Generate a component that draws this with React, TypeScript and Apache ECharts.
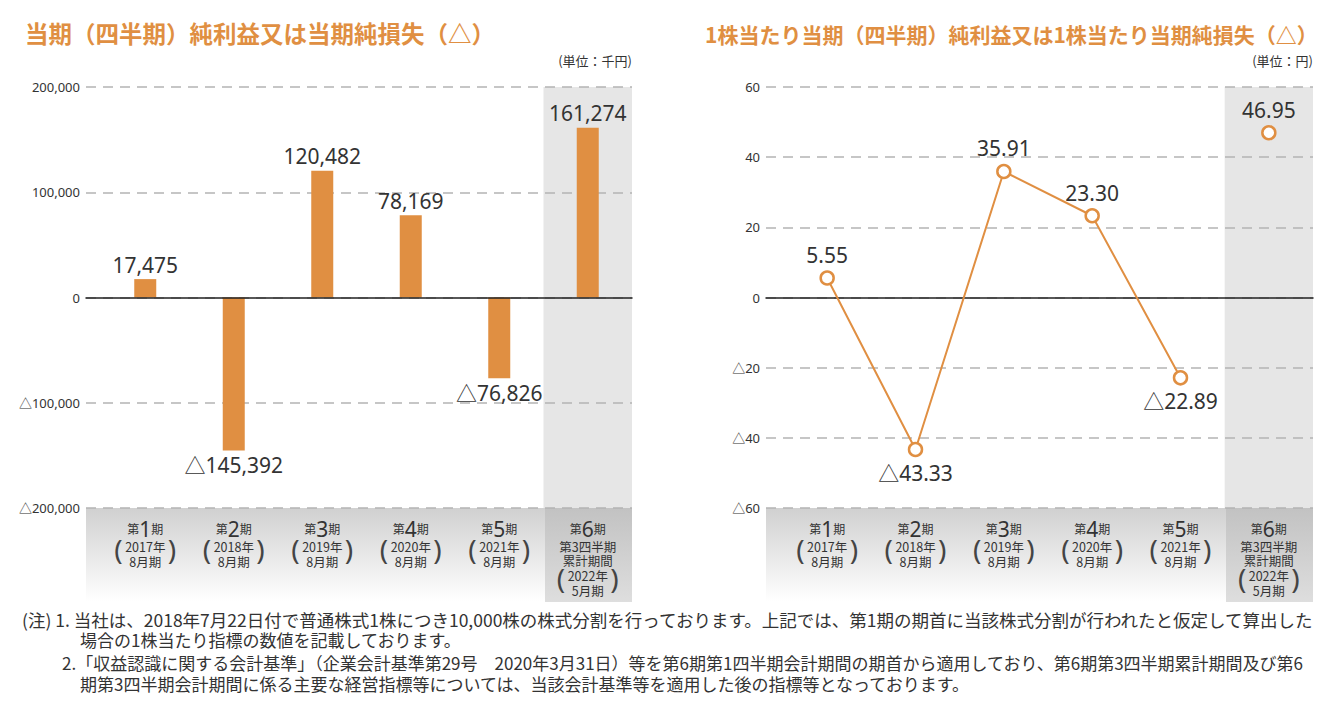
import React, { useEffect, useRef } from 'react';
import * as echarts from 'echarts';

const categories = ['第1期', '第2期', '第3期', '第4期', '第5期', '第6期'];
const periodNumbers = ['1', '2', '3', '4', '5', '6'];
const periodYears = ['2017年', '2018年', '2019年', '2020年', '2021年', '2022年'];
const periodMonths = ['8月期', '8月期', '8月期', '8月期', '8月期', '5月期'];
const cumulativeNote = ['第3四半期', '累計期間'];

const netIncome = [17475, -145392, 120482, 78169, -76826, 161274];
const eps = [5.55, -43.33, 35.91, 23.3, -22.89, 46.95];

const incomeMin = -200000;
const incomeMax = 200000;
const incomeStep = 100000;
const epsMin = -60;
const epsMax = 60;
const epsStep = 20;

const titleLeft = '当期（四半期）純利益又は当期純損失（△）';
const titleRight = '1株当たり当期（四半期）純利益又は1株当たり当期純損失（△）';
const unitLeft = '(単位：千円)';
const unitRight = '(単位：円)';

const footnotes = [
  '(注) 1. 当社は、2018年7月22日付で普通株式1株につき10,000株の株式分割を行っております。上記では、第1期の期首に当該株式分割が行われたと仮定して算出した',
  '場合の1株当たり指標の数値を記載しております。',
  '2.「収益認識に関する会計基準」（企業会計基準第29号　2020年3月31日）等を第6期第1四半期会計期間の期首から適用しており、第6期第3四半期累計期間及び第6',
  '期第3四半期会計期間に係る主要な経営指標等については、当該会計基準等を適用した後の指標等となっております。',
];

const ORANGE = '#e08f42';
const TEXT = '#333333';
const FONT = '"Noto Sans", "Noto Sans CJK JP", sans-serif';
const CJK = '"Noto Sans CJK JP", "Noto Sans", sans-serif';

const fmtIncome = (v: number) =>
  (v < 0 ? '△' : '') + Math.abs(v).toLocaleString('en-US');
const fmtEps = (v: number) => (v < 0 ? '△' : '') + Math.abs(v).toFixed(2);
const fmtEpsAxis = (v: number) => (v < 0 ? '△' : '') + String(Math.abs(v));

const catRich = {
  a: { fontSize: 12, color: TEXT, fontFamily: 'Noto Sans CJK JP', lineHeight: 21, verticalAlign: 'middle' },
  b: { fontSize: 21, color: TEXT, fontFamily: 'Noto Sans', lineHeight: 21, verticalAlign: 'middle' },
  c: { fontSize: 12.5, color: TEXT, fontFamily: 'Noto Sans CJK JP', lineHeight: 15 },
  d: { fontSize: 12.5, color: TEXT, fontFamily: 'Noto Sans CJK JP', lineHeight: 14 },
  e: { fontSize: 12.5, color: TEXT, fontFamily: 'Noto Sans CJK JP', lineHeight: 17 },
  f: { fontSize: 12.5, color: TEXT, fontFamily: 'Noto Sans CJK JP', lineHeight: 13 },
};

const catFormatter = (_v: string, i: number) => {
  const head = `{a|第}{b|${periodNumbers[i]}}{a|期}`;
  if (i === categories.length - 1) {
    return [
      head,
      `{d|${cumulativeNote[0]}}`,
      `{d|${cumulativeNote[1]}}`,
      `{e|${periodYears[i]}}`,
      `{f|${periodMonths[i]}}`,
    ].join('\n');
  }
  return [head, `{c|${periodYears[i]}}`, `{c|${periodMonths[i]}}`].join('\n');
};

const parenRich = {
  p: { fontSize: 28, color: '#444', fontFamily: 'Noto Sans', lineHeight: 28 },
  s: { width: 45, fontSize: 10, lineHeight: 28 },
};

const parenData = categories.map((c, i) =>
  i === categories.length - 1 ? { value: c, textStyle: { padding: [29, 0, 0, 0] } } : c
);

const splitColors = categories.map((_c, i) =>
  i === categories.length - 1 ? '#e6e6e6' : 'rgba(0,0,0,0)'
);

const dashed = { lineStyle: { type: [10, 7], color: '#b4b4b4', width: 1.5 } };

function buildAxes(gridBase: number, min: number, max: number, step: number, fmt: (v: number) => string) {
  const xAxis = [
    {
      gridIndex: gridBase,
      type: 'category',
      data: [''],
      z: 3,
      axisLine: { show: true, onZero: true, lineStyle: { color: '#222', width: 1.5 } },
      axisTick: { show: false },
      axisLabel: { show: false },
      splitLine: { show: false },
    },
    {
      gridIndex: gridBase + 1,
      type: 'category',
      position: 'bottom',
      data: categories,
      axisLine: { show: false },
      axisTick: { show: false },
      splitLine: { show: false },
      splitArea: { show: true, interval: 0, areaStyle: { color: splitColors } },
      axisLabel: {
        interval: 0,
        margin: 10,
        fontSize: 13,
        color: TEXT,
        formatter: catFormatter,
        rich: catRich,
      },
    },
    {
      gridIndex: gridBase + 1,
      type: 'category',
      position: 'bottom',
      offset: 0,
      data: parenData,
      axisLine: { show: false },
      axisTick: { show: false },
      splitLine: { show: false },
      axisLabel: {
        interval: 0,
        margin: 27,
        fontSize: 28,
        color: '#444',
        formatter: () => '{p|(}{s| }{p|)}',
        rich: parenRich,
      },
    },
  ];
  const yAxis = [
    {
      gridIndex: gridBase,
      type: 'value',
      min,
      max,
      interval: step,
      z: 1,
      axisLine: { show: false },
      axisTick: { show: false },
      splitLine: { show: true, ...dashed },
      axisLabel: { formatter: fmt, color: TEXT, fontSize: 13, margin: 6, fontFamily: FONT },
    },
    { gridIndex: gridBase + 1, type: 'value', min, max, interval: step, show: false },
  ];
  return { xAxis, yAxis };
}

export default function App() {
  const ref = useRef<HTMLDivElement>(null);
  useEffect(() => {
    document.body.style.margin = '0';
    if (!ref.current) return;
    const chart = echarts.init(ref.current, null, { renderer: 'svg' });
    const left = buildAxes(0, incomeMin, incomeMax, incomeStep, fmtIncome);
    const right = buildAxes(2, epsMin, epsMax, epsStep, fmtEpsAxis);

    const bandRect = (x: number, w: number, top: string, bottom: string) => ({
      type: 'rect',
      z: -5,
      silent: true,
      shape: { x, y: 508, width: w, height: 94 },
      style: {
        fill: {
          type: 'linear', x: 0, y: 0, x2: 0, y2: 1,
          colorStops: [
            { offset: 0, color: top },
            { offset: 1, color: bottom },
          ],
        },
      },
    });

    const option: any = {
      animation: false,
      backgroundColor: '#ffffff',
      title: [
        { text: titleLeft, left: 20, top: 16, textStyle: { color: ORANGE, fontSize: 23.5, fontWeight: 'bold', fontFamily: CJK } },
        { text: titleRight, left: 700, top: 18, textStyle: { color: ORANGE, fontSize: 21, fontWeight: 'bold', fontFamily: CJK } },
      ],
      grid: [
        { left: 86, top: 87, width: 546, height: 421 },
        { left: 101, top: 87, width: 531, height: 421 },
        { left: 766, top: 87, width: 547, height: 421 },
        { left: 783, top: 87, width: 530, height: 421 },
      ],
      xAxis: [...left.xAxis, ...right.xAxis],
      yAxis: [...left.yAxis, ...right.yAxis],
      graphic: [
        bandRect(86, 546, '#d0d0d0', '#ffffff'),
        bandRect(545, 87, '#c2c2c2', '#dedede'),
        bandRect(766, 547, '#d0d0d0', '#ffffff'),
        bandRect(1226, 87, '#c2c2c2', '#dedede'),
        { type: 'text', right: 1336 - 632, top: 54, style: { text: unitLeft, fontSize: 13, fill: TEXT, fontFamily: CJK } },
        { type: 'text', right: 1336 - 1313, top: 54, style: { text: unitRight, fontSize: 13, fill: TEXT, fontFamily: CJK } },
        ...footnotes.map((t, i) => ({
          type: 'text',
          left: [22, 80, 62, 80][i],
          top: [611, 631, 654, 675][i],
          style: { text: t, fontSize: [17.5, 17, 17, 17][i], fill: TEXT, fontFamily: CJK },
        })),
      ],
      series: [
        {
          type: 'bar',
          xAxisIndex: 1,
          yAxisIndex: 1,
          barWidth: 22,
          itemStyle: { color: ORANGE },
          label: {
            show: true,
            fontSize: 21,
            color: TEXT,
            fontFamily: FONT,
            distance: 4,
            formatter: (p: any) => fmtIncome(p.value),
          },
          data: netIncome.map((v) => ({ value: v, label: { position: v < 0 ? 'bottom' : 'top' } })),
        },
        {
          type: 'line',
          xAxisIndex: 4,
          yAxisIndex: 3,
          symbol: 'circle',
          symbolSize: 13,
          showSymbol: true,
          lineStyle: { color: ORANGE, width: 2 },
          itemStyle: { color: '#ffffff', borderColor: ORANGE, borderWidth: 2.5 },
          label: { show: true, fontSize: 21, color: TEXT, fontFamily: FONT, distance: 5, formatter: (p: any) => fmtEps(p.value) },
          data: eps.map((v, i) =>
            i < eps.length - 1 ? { value: v, label: { position: v < 0 ? 'bottom' : 'top' } } : '-'
          ),
        },
        {
          type: 'line',
          xAxisIndex: 4,
          yAxisIndex: 3,
          symbol: 'circle',
          symbolSize: 13,
          showSymbol: true,
          lineStyle: { color: ORANGE, width: 2 },
          itemStyle: { color: '#ffffff', borderColor: ORANGE, borderWidth: 2.5 },
          label: { show: true, fontSize: 21, color: TEXT, fontFamily: FONT, distance: 5, formatter: (p: any) => fmtEps(p.value) },
          data: eps.map((v, i) =>
            i === eps.length - 1 ? { value: v, label: { position: v < 0 ? 'bottom' : 'top' } } : '-'
          ),
        },
      ],
    };
    chart.setOption(option);
    return () => chart.dispose();
  }, []);
  return <div ref={ref} style={{ width: 1336, height: 716 }} />;
}
